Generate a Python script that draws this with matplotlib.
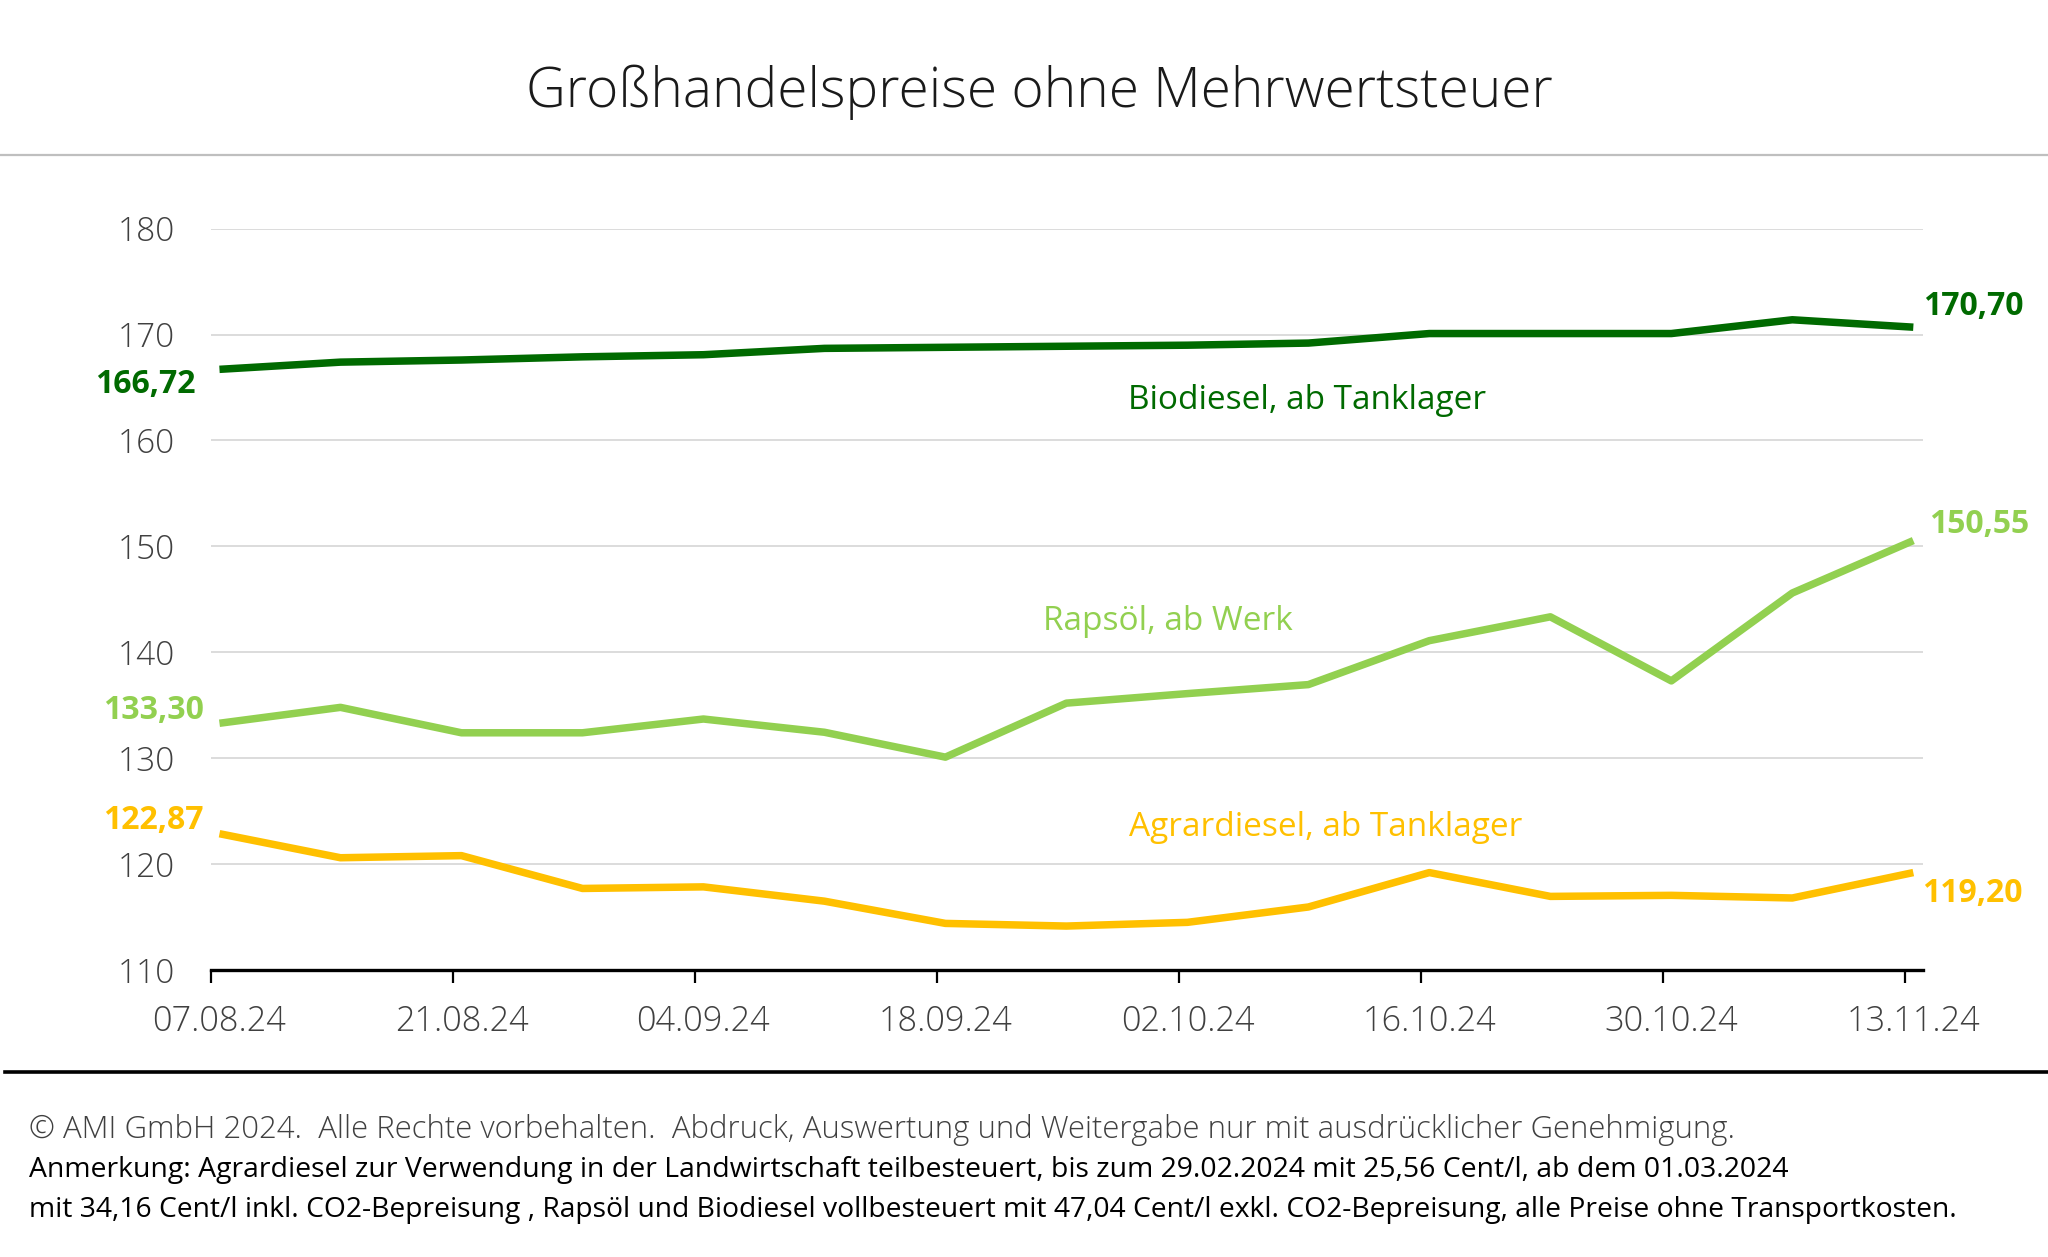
import numpy as np
import matplotlib.pyplot as plt
from matplotlib.lines import Line2D

plt.rcParams['font.family'] = ['Open Sans', 'DejaVu Sans']

# weekly dates (Wednesdays), only every second one gets a label
dates = ['07.08.24', '14.08.24', '21.08.24', '28.08.24', '04.09.24', '11.09.24',
         '18.09.24', '25.09.24', '02.10.24', '09.10.24', '16.10.24', '23.10.24',
         '30.10.24', '06.11.24', '13.11.24']

# prices in Cent/l
biodiesel = [166.72, 167.4, 167.6, 167.9, 168.1, 168.7, 168.8, 168.9,
             169.0, 169.2, 170.1, 170.1, 170.1, 171.4, 170.70]
rapsoel = [133.30, 134.8, 132.4, 132.4, 133.7, 132.45, 130.1, 135.2,
           136.1, 136.95, 141.1, 143.35, 137.3, 145.6, 150.55]
agrardiesel = [122.87, 120.6, 120.8, 117.7, 117.85, 116.5, 114.4, 114.15,
               114.5, 115.95, 119.2, 116.95, 117.05, 116.8, 119.20]

series_names = ['Biodiesel, ab Tanklager', 'Rapsöl, ab Werk', 'Agrardiesel, ab Tanklager']
y_ticks = [110, 120, 130, 140, 150, 160, 170, 180]

c_bio = '#006A00'
c_raps = '#92D050'
c_agrar = '#FFC000'

fig = plt.figure(figsize=(20.48, 12.57), dpi=100)
ax = fig.add_axes([211 / 2048, 1 - 970 / 1257, (1923 - 211) / 2048, (970 - 228.7) / 1257])

x = np.arange(len(dates))
lw = 5.4
ax.plot(x, biodiesel, color=c_bio, lw=lw, solid_capstyle='butt', zorder=3)
ax.plot(x, rapsoel, color=c_raps, lw=lw, solid_capstyle='butt', zorder=3)
ax.plot(x, agrardiesel, color=c_agrar, lw=lw, solid_capstyle='butt', zorder=3)

ax.set_xlim(-0.07, 14.08)
ax.set_ylim(110, 180)

# y axis: light grid, no ticks
ax.set_yticks(y_ticks)
ax.set_yticklabels([str(v) for v in y_ticks])
for v in y_ticks[1:]:
    ax.axhline(v, color='#D9D9D9', lw=1.3, zorder=1)
ax.tick_params(axis='y', length=0, pad=26, labelsize=24, labelcolor='#404040')

# x axis: labels sit on the points, tick marks a bit left of them (like the excel date axis)
ax.set_xticks(x[::2])
ax.set_xticklabels(dates[::2])
ax.set_xticks(x[::2] - 0.07, minor=True)
ax.tick_params(axis='x', which='major', length=0, pad=25, labelsize=24.7,
               labelcolor='#404040')
ax.tick_params(axis='x', which='minor', length=9.5, width=1.6, color='black')

for side in ['top', 'right', 'left']:
    ax.spines[side].set_visible(False)
ax.spines['bottom'].set_linewidth(2.4)
ax.spines['bottom'].set_color('black')

for lab in ax.get_xticklabels() + ax.get_yticklabels():
    lab.set_fontweight('light')

# series names inside the plot
ax.text(8.99, 163.8, series_names[0], color=c_bio, fontsize=24, ha='center', va='center')
ax.text(7.84, 142.9, series_names[1], color=c_raps, fontsize=24, ha='center', va='center')
ax.text(9.14, 123.45, series_names[2], color=c_agrar, fontsize=24, ha='center', va='center')

# first and last values
def fmt(v):
    return ('%.2f' % v).replace('.', ',')

vs = 23
ax.text(-0.2, 165.25, fmt(biodiesel[0]), color=c_bio, fontsize=vs, weight='bold',
        ha='right', va='center', clip_on=False)
ax.text(-0.13, 134.55, fmt(rapsoel[0]), color=c_raps, fontsize=vs, weight='bold',
        ha='right', va='center', clip_on=False)
ax.text(-0.13, 124.1, fmt(agrardiesel[0]), color=c_agrar, fontsize=vs, weight='bold',
        ha='right', va='center', clip_on=False)
ax.text(14.08, 172.65, fmt(biodiesel[-1]), color=c_bio, fontsize=vs, weight='bold',
        ha='left', va='center', clip_on=False)
ax.text(14.13, 152.05, fmt(rapsoel[-1]), color=c_raps, fontsize=vs, weight='bold',
        ha='left', va='center', clip_on=False)
ax.text(14.07, 117.2, fmt(agrardiesel[-1]), color=c_agrar, fontsize=vs, weight='bold',
        ha='left', va='center', clip_on=False)

# title and separator lines
fig.text(1039 / 2048, 1 - 92 / 1257, 'Großhandelspreise ohne Mehrwertsteuer', ha='center',
         va='center', fontsize=39.6, weight='light', color='#1a1a1a')
fig.add_artist(Line2D([0, 1], [1 - 155 / 1257] * 2, color='#BFBFBF', lw=1.6))
fig.add_artist(Line2D([5 / 2048, 1], [1 - 1072 / 1257] * 2, color='black', lw=2.6))

# footer notes
fig.text(29 / 2048, 1 - 1130 / 1257,
         '© AMI GmbH 2024.  Alle Rechte vorbehalten.  Abdruck, Auswertung und Weitergabe nur mit ausdrücklicher Genehmigung.',
         fontsize=22.4, weight='light', color='#404040', va='center')
fig.text(29 / 2048, 1 - 1170 / 1257,
         'Anmerkung: Agrardiesel zur Verwendung in der Landwirtschaft teilbesteuert, bis zum 29.02.2024 mit 25,56 Cent/l, ab dem 01.03.2024',
         fontsize=20.4, color='black', va='center')
fig.text(29 / 2048, 1 - 1210 / 1257,
         'mit 34,16 Cent/l inkl. CO2-Bepreisung , Rapsöl und Biodiesel vollbesteuert mit 47,04 Cent/l exkl. CO2-Bepreisung, alle Preise ohne Transportkosten.',
         fontsize=20.35, color='black', va='center')

fig.savefig('out.png', dpi=100, facecolor='white')
